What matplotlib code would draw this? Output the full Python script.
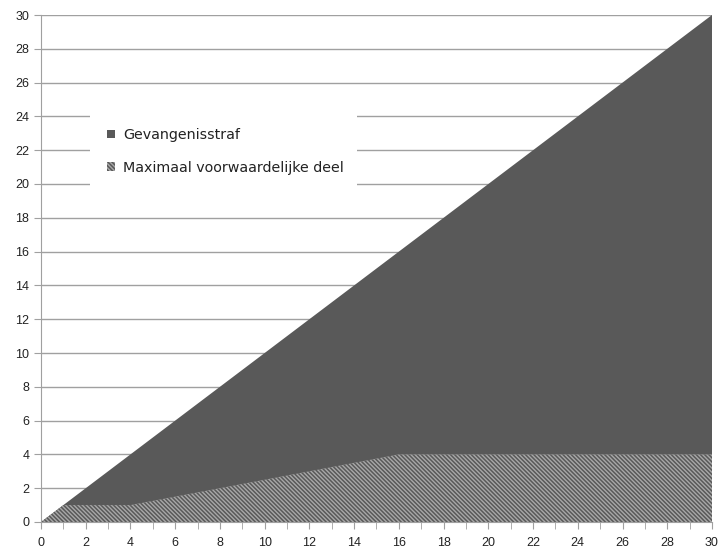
import matplotlib.pyplot as plt
from matplotlib.ticker import MultipleLocator
from matplotlib.patches import Rectangle
import numpy as np

# jaren gevangenisstraf (x) en maximaal voorwaardelijk deel
straf = np.arange(0, 31)
gevangenisstraf = [0, 1, 2, 3, 4, 5, 6, 7, 8, 9, 10, 11, 12, 13, 14, 15,
                   16, 17, 18, 19, 20, 21, 22, 23, 24, 25, 26, 27, 28, 29, 30]
voorwaardelijk = [0, 1, 1, 1, 1, 1.25, 1.5, 1.75, 2, 2.25, 2.5, 2.75, 3, 3.25,
                  3.5, 3.75, 4, 4, 4, 4, 4, 4, 4, 4, 4, 4, 4, 4, 4, 4, 4]
y_ticks = np.arange(0, 31, 2)

plt.rcParams['hatch.linewidth'] = 1.1
plt.rcParams['hatch.color'] = '#595959'

W, H = 726, 550
fig = plt.figure(figsize=(W / 100, H / 100), dpi=100)
ax = fig.add_axes([41 / W, 28 / H, 671 / W, 507 / H])

# horizontale rasterlijnen achter de vlakken
ax.hlines(y_ticks[1:], 0, 30, color='#a0a0a0', lw=1, zorder=1)

ax.fill_between(straf, 0, gevangenisstraf, facecolor='#595959', edgecolor='none',
                lw=0, label='Gevangenisstraf', zorder=2)
ax.fill_between(straf, 0, voorwaardelijk, facecolor='#a8a8a8', hatch='\\' * 8,
                edgecolor='#595959', lw=0, label='Maximaal voorwaardelijke deel',
                zorder=3)

ax.set_xlim(0, 30)
ax.set_ylim(0, 30)
ax.xaxis.set_major_locator(MultipleLocator(2))
ax.xaxis.set_minor_locator(MultipleLocator(1))
ax.set_yticks(y_ticks)

for s in ['top', 'right']:
    ax.spines[s].set_visible(False)
for s in ['left', 'bottom']:
    ax.spines[s].set_color('#a0a0a0')
    ax.spines[s].set_zorder(4)
ax.tick_params(which='both', color='#a0a0a0', direction='out', length=5)
ax.tick_params(axis='x', pad=6)
for lab in ax.get_xticklabels() + ax.get_yticklabels():
    lab.set_fontfamily('Liberation Sans')
    lab.set_fontsize(9)
    lab.set_color('#222222')

# witte achtergrond van de legenda
fig.patches.append(Rectangle((90 / W, 1 - 196 / H), 267 / W, 91 / H,
                             transform=fig.transFigure, facecolor='white',
                             edgecolor='none', zorder=5))

leg = fig.legend(*ax.get_legend_handles_labels(), loc='upper left',
                 bbox_to_anchor=(107 / W, 1 - 128 / H), frameon=False,
                 fontsize=10.3, handlelength=0.55, handleheight=0.55,
                 labelspacing=1.3, borderpad=0, borderaxespad=0,
                 handletextpad=0.6)
leg.set_zorder(6)
for t in leg.get_texts():
    t.set_color('#222222')

fig.savefig('out.png', dpi=100)
